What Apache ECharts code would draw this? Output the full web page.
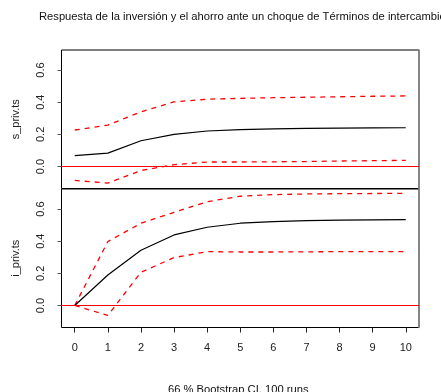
<!DOCTYPE html>
<html>
<head>
<meta charset="utf-8">
<script src="https://cdn.jsdelivr.net/npm/echarts@6/dist/echarts.min.js"></script>
<style>
  html, body { margin: 0; padding: 0; background: #fff; }
  #chart { width: 441px; height: 392px; }
</style>
</head>
<body>
<div id="chart"></div>
<script>
// Impulse-response horizons
const steps = [0, 1, 2, 3, 4, 5, 6, 7, 8, 9, 10];
const xTicks = [0, 1, 2, 3, 4, 5, 6, 7, 8, 9, 10];
const yTicks = [0, 0.2, 0.4, 0.6];

// Response of private saving
const sPrivIrf   = [0.068, 0.083, 0.160, 0.200, 0.221, 0.229, 0.234, 0.237, 0.239, 0.240, 0.241];
const sPrivUpper = [0.227, 0.258, 0.340, 0.402, 0.419, 0.424, 0.428, 0.431, 0.434, 0.437, 0.439];
const sPrivLower = [-0.087, -0.103, -0.025, 0.011, 0.028, 0.028, 0.029, 0.031, 0.034, 0.036, 0.038];

// Response of private investment
const iPrivIrf   = [0, 0.190, 0.344, 0.439, 0.487, 0.512, 0.522, 0.528, 0.531, 0.533, 0.534];
const iPrivUpper = [0, 0.398, 0.512, 0.580, 0.646, 0.680, 0.690, 0.694, 0.696, 0.697, 0.698];
const iPrivLower = [0, -0.062, 0.207, 0.298, 0.335, 0.333, 0.333, 0.334, 0.335, 0.335, 0.335];

const titleText = 'Respuesta de la inversión y el ahorro ante un choque de Términos de intercambio';
const footText = '66 % Bootstrap CI, 100 runs';

// axis ranges (horizon range padded by 4% on each side)
const xMin = -0.4, xMax = 10.4;
const yMin = -0.137, yMax = 0.725;

const FONT = '"Liberation Sans", Arial, sans-serif';
const pairs = vals => steps.map((s, i) => [s, vals[i]]);

// panel p uses xAxis p and yAxis 2p (left)
function irfSeries(p, vals) {
  return {
    type: 'line', xAxisIndex: p, yAxisIndex: p * 2,
    data: pairs(vals), symbol: 'none', silent: true,
    lineStyle: { color: '#000', width: 1.2 }, z: 4
  };
}
function bandSeries(p, vals) {
  return {
    type: 'line', xAxisIndex: p, yAxisIndex: p * 2,
    data: pairs(vals), symbol: 'none', silent: true,
    lineStyle: { color: '#ff0000', width: 1.3, type: [5, 5] }, z: 3
  };
}
// horizontal reference line at zero spanning the panel, drawn on top
function zeroLine(p) {
  return {
    type: 'line', xAxisIndex: p, yAxisIndex: p * 2,
    data: [[xMin, 0], [xMax, 0]], symbol: 'none', silent: true,
    itemStyle: { color: '#ff0000' },
    lineStyle: { color: '#ff0000', width: 1.2, opacity: 1 },
    emphasis: { disabled: true },
    z: 50, zlevel: 2
  };
}

function yAxes(gridIndex, name) {
  return [{
    type: 'value', gridIndex, position: 'left', min: yMin, max: yMax,
    name, nameLocation: 'middle', nameGap: 40, nameRotate: 90,
    nameTextStyle: { fontFamily: FONT, fontSize: 11, color: '#222' },
    splitLine: { show: false },
    axisLine: { show: false, onZero: false },
    axisTick: { show: true, length: 4, customValues: yTicks, lineStyle: { color: '#555' } },
    axisLabel: {
      customValues: yTicks, rotate: 90, margin: 15,
      fontFamily: FONT, fontSize: 11, color: '#222',
      formatter: v => v.toFixed(1)
    }
  }, {
    type: 'value', gridIndex, position: 'right', min: yMin, max: yMax,
    splitLine: { show: false }, z: 20,
    axisLine: { show: true, onZero: false, lineStyle: { color: '#888', width: 1.5 } },
    axisTick: { show: false }, axisLabel: { show: false }
  }];
}

function xAxisFor(gridIndex, labelled) {
  return {
    type: 'value', gridIndex, min: xMin, max: xMax,
    splitLine: { show: false },
    axisLine: { show: false, onZero: false },
    axisTick: labelled
      ? { show: true, length: 5, customValues: xTicks, lineStyle: { color: '#222' } }
      : { show: false },
    axisLabel: labelled
      ? { customValues: xTicks, margin: 15, fontFamily: FONT, fontSize: 11, color: '#222' }
      : { show: false }
  };
}

const chart = echarts.init(document.getElementById('chart'), null, { renderer: 'canvas' });
chart.setOption({
  animation: false,
  backgroundColor: '#fff',
  title: [{
    text: titleText, left: 34, top: 6,
    textStyle: { fontFamily: FONT, fontSize: 11.2, fontWeight: 'normal', color: '#111' }
  }, {
    text: footText, left: 163, top: 379,
    textStyle: { fontFamily: FONT, fontSize: 11.2, fontWeight: 'normal', color: '#111' }
  }],
  grid: [
    { left: 61.5, top: 50, width: 357.5, height: 138.5, show: true, borderColor: '#000', borderWidth: 1, backgroundColor: 'transparent' },
    { left: 61.5, top: 189, width: 357.5, height: 138.5, show: true, borderColor: '#000', borderWidth: 1, backgroundColor: 'transparent' }
  ],
  xAxis: [xAxisFor(0, false), xAxisFor(1, true)],
  yAxis: [...yAxes(0, 's_priv.ts'), ...yAxes(1, 'i_priv.ts')],
  series: [
    bandSeries(0, sPrivUpper),
    bandSeries(0, sPrivLower),
    irfSeries(0, sPrivIrf),
    zeroLine(0),
    bandSeries(1, iPrivUpper),
    bandSeries(1, iPrivLower),
    irfSeries(1, iPrivIrf),
    zeroLine(1)
  ]
});
</script>
</body>
</html>
